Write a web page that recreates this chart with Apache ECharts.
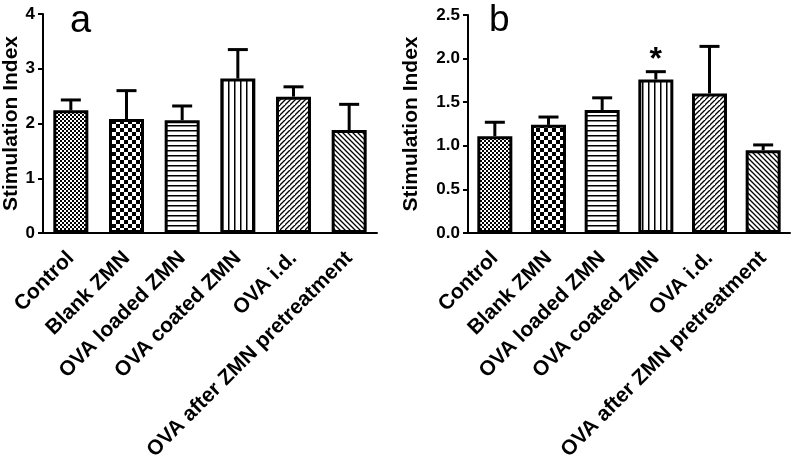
<!DOCTYPE html>
<html>
<head>
<meta charset="utf-8">
<script src="https://cdn.jsdelivr.net/npm/echarts@6/dist/echarts.min.js"></script>
<style>
html,body{margin:0;padding:0;background:#fff;}
#chart{width:800px;height:460px;}
</style>
</head>
<body>
<div id="chart"></div>
<script>
// ---- data ----
const categories = ['Control', 'Blank ZMN', 'OVA loaded ZMN', 'OVA coated ZMN', 'OVA i.d.', 'OVA after ZMN pretreatment'];
const meanA = [2.24, 2.08, 2.06, 2.82, 2.49, 1.88];
const errTopA = [2.43, 2.60, 2.32, 3.35, 2.67, 2.35];
const meanB = [1.11, 1.24, 1.41, 1.76, 1.60, 0.95];
const errTopB = [1.27, 1.33, 1.55, 1.85, 2.14, 1.01];
const starsB = ['', '', '', '*', '', ''];
const yTicksA = [0, 1, 2, 3, 4];
const yTicksB = [0, 0.5, 1.0, 1.5, 2.0, 2.5];
const panelLetters = ['a', 'b'];
const yName = 'Stimulation Index';

// ---- patterns ----
function mk(w, h, draw) {
  const c = document.createElement('canvas');
  c.width = w; c.height = h;
  const g = c.getContext('2d');
  g.fillStyle = '#fff'; g.fillRect(0, 0, w, h);
  g.fillStyle = '#000'; g.strokeStyle = '#000';
  draw(g, w, h);
  return { image: c, repeat: 'repeat' };
}
const patterns = [
  mk(4, 4, g => { g.fillRect(0, 0, 2, 2); g.fillRect(2, 2, 2, 2); }),
  mk(8, 8, g => { g.fillRect(0, 0, 4, 4); g.fillRect(4, 4, 4, 4); }),
  mk(5, 5, g => { g.fillRect(0, 0, 5, 1.5); }),
  mk(6, 6, g => { g.fillRect(0, 0, 1.5, 6); }),
  mk(5, 5, g => { g.lineWidth = 1.3; g.beginPath(); g.moveTo(-1, 6); g.lineTo(6, -1); g.moveTo(-6, 6); g.lineTo(1, -1); g.moveTo(4, 11); g.lineTo(11, 4); g.stroke(); }),
  mk(5, 5, g => { g.lineWidth = 1.3; g.beginPath(); g.moveTo(-1, -1); g.lineTo(6, 6); g.moveTo(4, -1); g.lineTo(11, 6); g.moveTo(-6, -1); g.lineTo(1, 6); g.stroke(); })
];

const font = 'Liberation Sans, Arial, Helvetica, sans-serif';

function errRender(stars) {
  return function (params, api) {
    const x = api.value(0), m = api.value(1), t = api.value(2);
    const p0 = api.coord([x, m]);
    const p1 = api.coord([x, t]);
    const children = [
      { type: 'line', shape: { x1: p0[0], y1: p0[1], x2: p1[0], y2: p1[1] }, style: { stroke: '#000', lineWidth: 3 } },
      { type: 'line', shape: { x1: p1[0] - 10, y1: p1[1], x2: p1[0] + 10, y2: p1[1] }, style: { stroke: '#000', lineWidth: 3 } }
    ];
    const s = stars ? stars[params.dataIndex] : '';
    if (s) {
      children.push({ type: 'text', style: { text: s, x: p1[0], y: p1[1] + 4, align: 'center', verticalAlign: 'bottom', font: 'bold 32px ' + font, fill: '#000' } });
    }
    return { type: 'group', children: children };
  };
}

function barData(vals) {
  return vals.map((v, i) => ({ value: v, itemStyle: { color: patterns[i] } }));
}
function errData(m, t) { return m.map((v, i) => [i, v, t[i]]); }

function xAxisCfg(gi) {
  return {
    type: 'category', gridIndex: gi, data: categories,
    axisLine: { lineStyle: { color: '#000', width: 2 } },
    axisTick: { alignWithLabel: true, length: 6, lineStyle: { color: '#000', width: 2 } },
    axisLabel: { rotate: 45, margin: 22, color: '#000', fontWeight: 'bold', fontSize: 21, fontFamily: font, interval: 0 }
  };
}
function yAxisCfg(gi, ticks, gap, dec) {
  return {
    type: 'value', gridIndex: gi, min: ticks[0], max: ticks[ticks.length - 1], interval: ticks[1] - ticks[0],
    name: yName, nameLocation: 'middle', nameGap: gap, nameRotate: 90,
    nameTextStyle: { color: '#000', fontWeight: 'bold', fontSize: 21, fontFamily: font },
    axisLine: { show: true, lineStyle: { color: '#000', width: 2 } },
    axisTick: { show: true, length: 5, lineStyle: { color: '#000', width: 2 } },
    axisLabel: { color: '#000', fontWeight: 'bold', fontSize: 17, fontFamily: font, margin: 8,
      formatter: v => dec ? v.toFixed(1) : String(v) },
    splitLine: { show: false }
  };
}

const chart = echarts.init(document.getElementById('chart'), null, { renderer: 'canvas' });
chart.setOption({
  animation: false,
  backgroundColor: '#fff',
  grid: [
    { left: 43, top: 14, width: 334, height: 219, containLabel: false, outerBoundsMode: 'none' },
    { left: 468, top: 15, width: 322, height: 218, containLabel: false, outerBoundsMode: 'none' }
  ],
  xAxis: [xAxisCfg(0), xAxisCfg(1)],
  yAxis: [yAxisCfg(0, yTicksA, 21, false), yAxisCfg(1, yTicksB, 46, true)],
  graphic: [
    { type: 'text', left: 70, top: 3, style: { text: panelLetters[0], font: '38px ' + font, fill: '#000' } },
    { type: 'text', left: 489, top: 2, style: { text: panelLetters[1], font: '37px ' + font, fill: '#000' } }
  ],
  series: [
    { type: 'bar', xAxisIndex: 0, yAxisIndex: 0, data: barData(meanA), barWidth: 35,
      itemStyle: { borderColor: '#000', borderWidth: 3 }, z: 2 },
    { type: 'custom', xAxisIndex: 0, yAxisIndex: 0, data: errData(meanA, errTopA), renderItem: errRender(null), z: 1 },
    { type: 'bar', xAxisIndex: 1, yAxisIndex: 1, data: barData(meanB), barWidth: 35,
      itemStyle: { borderColor: '#000', borderWidth: 3 }, z: 2 },
    { type: 'custom', xAxisIndex: 1, yAxisIndex: 1, data: errData(meanB, errTopB), renderItem: errRender(starsB), z: 1 }
  ]
});
</script>
</body>
</html>
